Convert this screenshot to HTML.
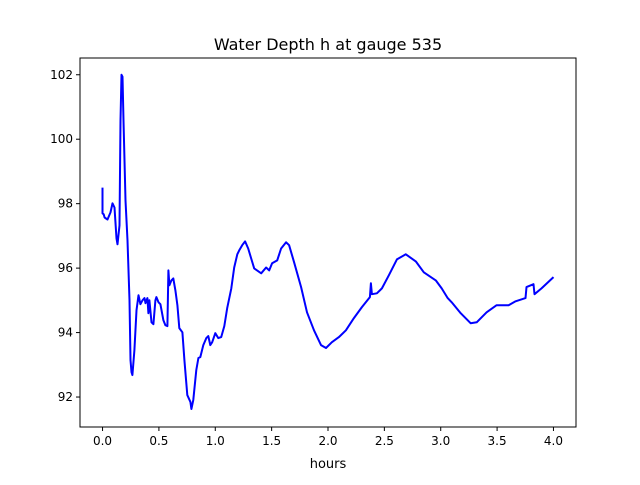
<!DOCTYPE html>
<html><head><meta charset="utf-8"><style>
html,body{margin:0;padding:0;background:#fff;}
text{font-family:"DejaVu Sans","Liberation Sans",sans-serif;}
</style></head><body>
<svg id="chart" width="640" height="480" xmlns="http://www.w3.org/2000/svg">
<rect width="640" height="480" fill="#fff"/>
<text x="328" y="50" font-size="16" text-anchor="middle">Water Depth h at gauge 535</text>
<text x="328" y="468" font-size="13" text-anchor="middle">hours</text>
<g id="plot"></g>
<rect x="80" y="58" width="496" height="369" fill="none" stroke="#000" stroke-width="1"/>
</svg>
<script>
const hours=[0,0,0.01,0.018,0.044,0.071,0.088,0.106,0.124,0.133,0.150,0.159,0.168,0.177,0.186,0.204,0.221,0.239,0.248,0.257,0.265,0.283,0.301,0.319,0.336,0.354,0.372,0.381,0.398,0.407,0.416,0.434,0.451,0.469,0.478,0.496,0.513,0.540,0.558,0.575,0.584,0.593,0.611,0.628,0.646,0.664,0.681,0.708,0.726,0.752,0.779,0.788,0.805,0.832,0.850,0.867,0.894,0.920,0.938,0.956,0.973,1.000,1.027,1.053,1.080,1.106,1.142,1.168,1.195,1.212,1.239,1.265,1.292,1.319,1.345,1.407,1.451,1.478,1.504,1.549,1.584,1.628,1.655,1.699,1.761,1.814,1.876,1.938,1.982,2.035,2.097,2.159,2.230,2.301,2.372,2.381,2.389,2.434,2.478,2.540,2.611,2.690,2.779,2.850,2.956,3.009,3.062,3.097,3.177,3.265,3.319,3.407,3.496,3.602,3.664,3.752,3.761,3.823,3.832,3.894,4.000];
const depth=[98.50,97.70,97.67,97.57,97.51,97.73,98.01,97.88,96.92,96.74,97.33,100.58,102.0,101.94,100.58,98.10,96.86,95.00,93.15,92.77,92.68,93.45,94.69,95.16,94.88,95.00,95.07,94.91,95.07,94.60,95.00,94.32,94.26,95.00,95.10,94.94,94.88,94.38,94.23,94.20,95.93,95.47,95.62,95.68,95.31,94.85,94.14,94.01,93.15,92.06,91.85,91.63,91.91,92.84,93.21,93.24,93.61,93.83,93.89,93.61,93.70,93.98,93.83,93.86,94.20,94.76,95.37,96.02,96.43,96.55,96.71,96.83,96.61,96.30,95.99,95.84,96.02,95.93,96.15,96.24,96.61,96.80,96.71,96.18,95.41,94.63,94.07,93.61,93.52,93.70,93.86,94.07,94.45,94.79,95.10,95.53,95.19,95.22,95.37,95.78,96.27,96.43,96.21,95.87,95.62,95.37,95.07,94.94,94.60,94.29,94.32,94.63,94.85,94.85,94.97,95.07,95.41,95.50,95.19,95.37,95.72];
const xTicks=[0,0.5,1.0,1.5,2.0,2.5,3.0,3.5,4.0];
const xTickLabels=["0.0","0.5","1.0","1.5","2.0","2.5","3.0","3.5","4.0"];
const yTicks=[92,94,96,98,100,102];
const yTickLabels=["92","94","96","98","100","102"];
const X0=80,X1=576,Y0=427,Y1=58;
const xMin=-0.2,xMax=4.2,yMin=91.07,yMax=102.52;
const sx=v=>X0+(v-xMin)/(xMax-xMin)*(X1-X0);
const sy=v=>Y0-(v-yMin)/(yMax-yMin)*(Y0-Y1);
const NS="http://www.w3.org/2000/svg";
const g=document.getElementById('plot');
function mk(t,a){const e=document.createElementNS(NS,t);for(const k in a)e.setAttribute(k,a[k]);g.appendChild(e);return e;}
xTicks.forEach((v,i)=>{
  const l=mk('line',{x1:sx(v),x2:sx(v),y1:Y0,y2:Y0+4,stroke:'#000'});
  
  
  const t=mk('text',{x:sx(v),y:Y0+18,'font-size':12,'text-anchor':'middle'});
  
  
  t.textContent=xTickLabels[i];
});
yTicks.forEach((v,i)=>{
  const l=mk('line',{x1:X0-4,x2:X0,y1:sy(v),y2:sy(v),stroke:'#000'});
  
  
  const t=mk('text',{x:X0-7,y:sy(v)+4,'font-size':12,'text-anchor':'end'});
  
  
  t.textContent=yTickLabels[i];
});
const p=mk('polyline',{points:hours.map((h,i)=>sx(h).toFixed(1)+','+sy(depth[i]).toFixed(1)).join(' '),fill:'none',stroke:'#0000ff','stroke-width':2,'stroke-linejoin':'round'});


</script>
</body></html>
